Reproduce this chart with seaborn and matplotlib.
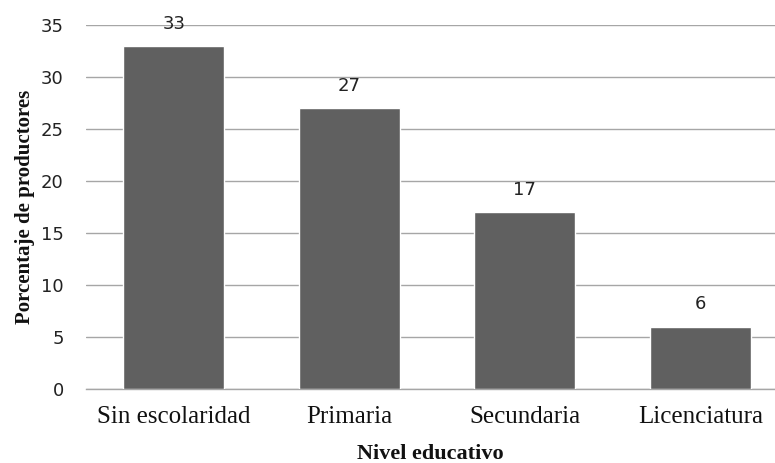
import matplotlib
matplotlib.use("Agg")
import matplotlib.pyplot as plt
import seaborn as sns
import pandas as pd

categories = ["Sin escolaridad", "Primaria", "Secundaria", "Licenciatura"]
values = [33, 27, 17, 6]
y_ticks = [0, 5, 10, 15, 20, 25, 30, 35]

df = pd.DataFrame({"nivel": categories, "pct": values})

sns.set_theme(style="white")
plt.rcParams["font.family"] = ["DejaVu Sans"]

fig = plt.figure(figsize=(7.75, 4.63), dpi=100)
ax = fig.add_axes([0.111, 0.160, 0.889, 0.786])

sns.barplot(data=df, x="nivel", y="pct", color="#606060", saturation=1,
            width=0.575, ax=ax, zorder=3)

ax.set_ylim(0, 35)
ax.set_xlim(-0.5, 3.426)
ax.set_yticks(y_ticks)
ax.yaxis.grid(True, color="#a6a6a6", linewidth=1.0, zorder=0)
ax.set_axisbelow(True)
for s in ["top", "right", "left"]:
    ax.spines[s].set_visible(False)
ax.spines["bottom"].set_color("#a6a6a6")
ax.spines["bottom"].set_linewidth(1.0)
ax.tick_params(axis="both", length=0)
ax.tick_params(axis="y", labelsize=13, colors="#222222", pad=16)
ax.tick_params(axis="x", pad=12)
for lab in ax.get_xticklabels():
    lab.set_fontfamily("Liberation Serif")
    lab.set_fontsize(18)
    lab.set_color("#111111")

for i, v in enumerate(values):
    ax.annotate(str(v), (i, v), xytext=(0, 16), textcoords="offset points",
                ha="center", va="center", fontsize=13, color="#222222")

ax.set_xlabel("Nivel educativo", fontfamily="Liberation Serif",
              fontweight="bold", fontsize=16, color="#111111", labelpad=12)
ax.set_ylabel("Porcentaje de productores", fontfamily="Liberation Serif",
              fontweight="bold", fontsize=15, color="#111111", labelpad=4)

fig.savefig("out.png", dpi=100)
